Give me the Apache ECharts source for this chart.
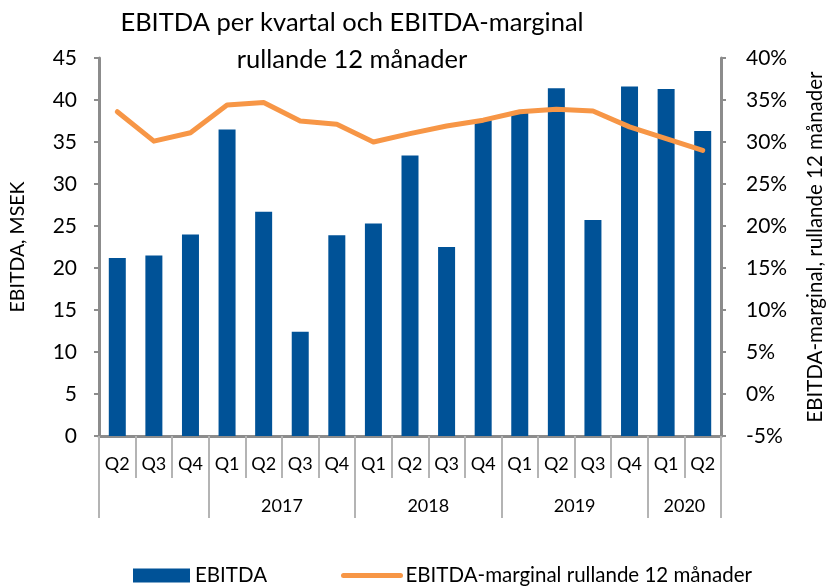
<!DOCTYPE html>
<html><head><meta charset="utf-8">
<script src="https://cdn.jsdelivr.net/npm/echarts@6/dist/echarts.min.js"></script>
<style>html,body{margin:0;padding:0;background:#fff}#c{width:834px;height:586px}</style>
</head><body><div id="c"></div>
<script>
const quarters = ['Q2','Q3','Q4','Q1','Q2','Q3','Q4','Q1','Q2','Q3','Q4','Q1','Q2','Q3','Q4','Q1','Q2'];
const years = ['2017','2018','2019','2020'];
const yearBoundaries = [0,3,7,11,15,17];
const yearCenters = [5,9,13,16];
const ebitda = [21.2,21.5,24.0,36.5,26.7,12.4,23.9,25.3,33.4,22.5,37.6,38.5,41.4,25.7,41.6,41.3,36.3];
const margin = [33.6,30.1,31.1,34.4,34.7,32.5,32.1,30.0,31.0,31.9,32.6,33.6,33.9,33.7,31.8,30.4,29.0];
const leftTicks = [0,5,10,15,20,25,30,35,40,45];
const rightTicks = [-5,0,5,10,15,20,25,30,35,40];

const FONT = 'Lato, "Noto Sans", sans-serif';
const AX = '#8c8c8c';
const SEP = '#b4b4b4';
const chart = echarts.init(document.getElementById('c'), null, {renderer:'canvas'});
chart.setOption({
  animation:false,
  textStyle:{fontFamily:FONT, color:'#000'},
  title:{text:'EBITDA per kvartal och EBITDA-marginal\nrullande 12 månader', left:347, top:-1, textAlign:'center',
    textStyle:{fontFamily:FONT, fontSize:25.5, fontWeight:'normal', color:'#000', lineHeight:37}},
  grid:{left:98, right:100, top:58, bottom:150},
  legend:{left:128, top:560, itemWidth:57, itemHeight:14, itemGap:74,
    textStyle:{fontFamily:FONT, fontSize:20.5, color:'#000'},
    data:[{name:'EBITDA', icon:'rect'},
          {name:'EBITDA-marginal rullande 12 månader', itemStyle:{opacity:0},
           lineStyle:{width:5, color:'#F79646', cap:'round'}}]},
  xAxis:[
    {type:'category', data:quarters, position:'bottom',
     axisLine:{onZero:false, lineStyle:{color:AX, width:3}},
     axisTick:{show:true, interval:0, length:42, lineStyle:{color:SEP, width:2}},
     axisLabel:{interval:0, margin:19, fontSize:18, color:'#000', fontFamily:FONT}},
    {type:'value', min:0, max:17, position:'bottom',
     axisLine:{show:false, onZero:false}, splitLine:{show:false},
     axisTick:{show:true, customValues:yearBoundaries, length:82, lineStyle:{color:SEP, width:2}},
     axisLabel:{customValues:yearCenters, margin:61, fontSize:18, color:'#000', fontFamily:FONT,
       formatter:(v)=>years[yearCenters.indexOf(v)] || ''}}
  ],
  yAxis:[
    {type:'value', min:0, max:45, interval:5, position:'left',
     name:'EBITDA, MSEK', nameLocation:'middle', nameGap:71, nameRotate:90,
     nameTextStyle:{fontFamily:FONT, fontSize:19.5, color:'#000'},
     axisLine:{show:true, lineStyle:{color:AX, width:3}},
     axisTick:{show:true, length:5, lineStyle:{color:AX, width:2}},
     axisLabel:{fontSize:21, color:'#000', margin:22, fontFamily:FONT,
       formatter:(v)=>leftTicks.includes(v)?String(v):''},
     splitLine:{show:false}},
    {type:'value', min:-5, max:40, interval:5, position:'right',
     name:'EBITDA-marginal, rullande 12 månader', nameLocation:'middle', nameGap:84, nameRotate:90,
     nameTextStyle:{fontFamily:FONT, fontSize:20.5, color:'#000'},
     axisLine:{show:true, lineStyle:{color:AX, width:3}},
     axisTick:{show:true, length:5, lineStyle:{color:AX, width:2}},
     axisLabel:{fontSize:21, color:'#000', margin:25, fontFamily:FONT,
       formatter:(v)=>rightTicks.includes(v)?v+'%':''},
     splitLine:{show:false}}
  ],
  series:[
    {name:'EBITDA', type:'bar', data:ebitda, xAxisIndex:0, yAxisIndex:0, barWidth:17,
     itemStyle:{color:'#005297'}},
    {name:'EBITDA-marginal rullande 12 månader', type:'line', data:margin, xAxisIndex:0, yAxisIndex:1,
     symbol:'none', lineStyle:{color:'#F79646', width:5, cap:'round', join:'round'}, itemStyle:{color:'#F79646'}}
  ]
});
</script></body></html>
